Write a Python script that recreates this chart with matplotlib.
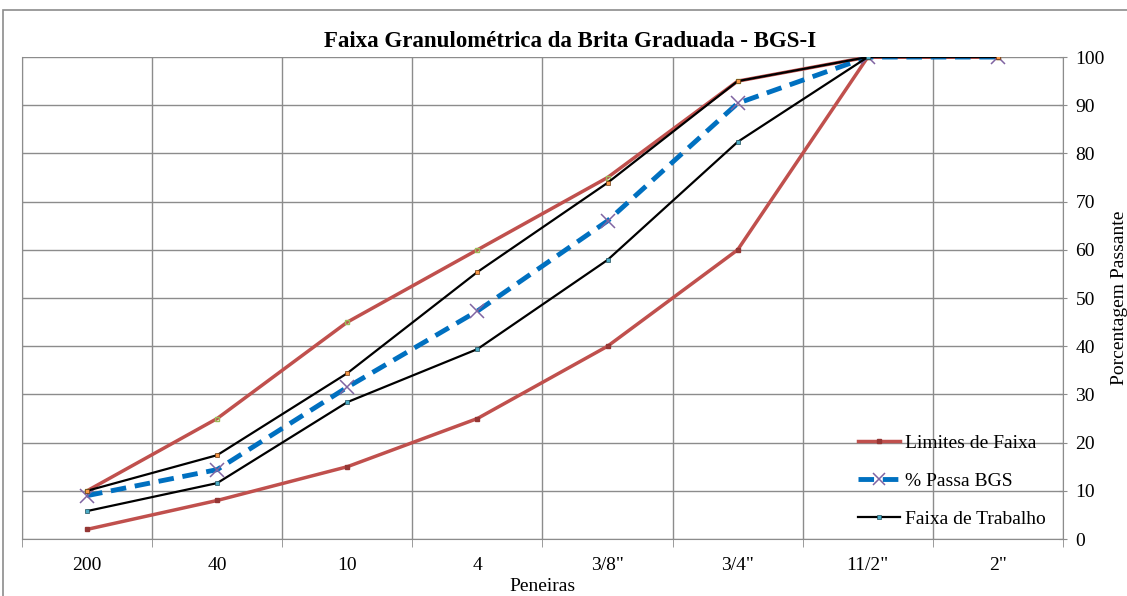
import matplotlib.pyplot as plt
from matplotlib.patches import Rectangle

peneiras = ['200', '40', '10', '4', '3/8"', '3/4"', '11/2"', '2"']

limite_sup = [10, 25, 45, 60, 75, 95, 100, 100]
limite_inf = [2, 8, 15, 25, 40, 60, 100, 100]
passa_bgs = [9, 14.4, 31.5, 47.3, 66, 90.4, 100, 100]
trabalho_sup = [10, 17.4, 34.4, 55.4, 73.9, 95, 100, 100]
trabalho_inf = [5.8, 11.6, 28.4, 39.4, 57.9, 82.4, 100]

plt.rcParams['font.family'] = ['Liberation Serif', 'DejaVu Serif']

fig = plt.figure(figsize=(11.27, 5.96), dpi=100)
ax = fig.add_axes([0.0195, 0.0956, 0.9237, 0.8087])

# moldura do grafico
fig.patches.append(Rectangle((3 / 1127, -0.1), 1.2, 1.1 - 10 / 596, transform=fig.transFigure,
                             fill=False, edgecolor='#8c8c8c', linewidth=1.2))

x = list(range(len(peneiras)))
cinza = '#8c8c8c'

ax.plot(x, limite_sup, color='#C0504D', lw=2.5, marker='s', ms=3,
        mfc='none', mec='#9BBB59', mew=1, zorder=3)
ax.plot(x, limite_inf, color='#C0504D', lw=2.5, marker='s', ms=3,
        mfc='#953735', mec='#953735', zorder=3, label='Limites de Faixa')
ax.plot(x, passa_bgs, color='#0070C0', lw=3.5, ls=(0, (3.2, 1.8)), marker='x', ms=10,
        mec='#8064A2', mew=1.1, zorder=4, label='% Passa BGS')
ax.plot(x, trabalho_sup, color='black', lw=1.6, marker='s', ms=3,
        mfc='#F79646', mec='#6b3a10', mew=0.5, zorder=5)
ax.plot(x[:len(trabalho_inf)], trabalho_inf, color='black', lw=1.6, marker='s', ms=3,
        mfc='#4BACC6', mec='#1f4f5c', mew=0.5, zorder=5, label='Faixa de Trabalho')

ax.set_xlim(-0.5, len(peneiras) - 0.5)
ax.set_ylim(0, 100)
ax.set_yticks(range(0, 101, 10))
ax.set_xticks(x)
ax.set_xticklabels(peneiras, fontsize=14)
ax.set_xticks([i - 0.5 for i in range(len(peneiras) + 1)], minor=True)
ax.tick_params(axis='x', which='major', length=0, pad=13)
ax.tick_params(axis='x', which='minor', length=6, color=cinza, direction='out')
ax.yaxis.tick_right()
ax.tick_params(axis='y', length=6, color=cinza, direction='inout', labelsize=14, pad=6)

ax.grid(True, which='minor', axis='x', color=cinza, lw=1)
ax.grid(True, which='major', axis='y', color=cinza, lw=1)
ax.set_axisbelow(True)
for lado in ['left', 'right', 'bottom']:
    ax.spines[lado].set_color(cinza)
ax.spines['top'].set_visible(False)

ax.set_title('Faixa Granulométrica da Brita Graduada - BGS-I', fontsize=16.5,
             fontweight='bold', pad=7, x=0.527)
ax.set_xlabel('Peneiras', fontsize=14, labelpad=3)
fig.text(1111 / 1127, 0.5, 'Porcentagem Passante', rotation=90, ha='left',
         va='center', fontsize=14)

ax.legend(loc='upper left', bbox_to_anchor=(840 / 1127, 1 - 417 / 596),
          bbox_transform=fig.transFigure, frameon=False, fontsize=14,
          labelspacing=1.05, handlelength=2.2, handletextpad=0.26, markerscale=0.8)

fig.savefig('out.png', dpi=100)
